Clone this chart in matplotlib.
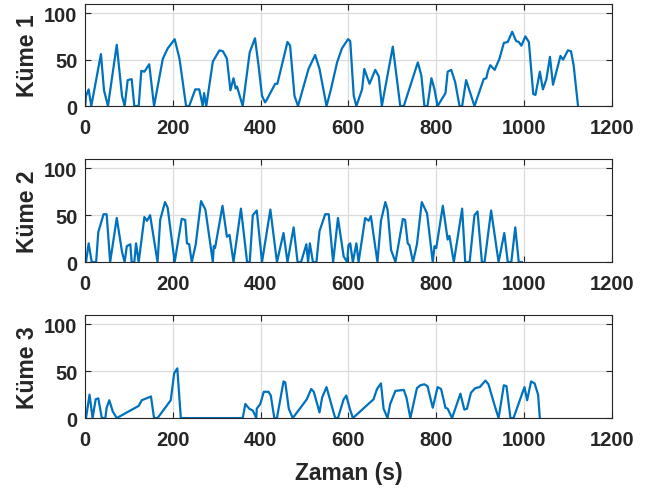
import matplotlib

matplotlib.use("Agg")

import matplotlib.pyplot as plt

LINE_COLOUR = "#0072BD"
TEXT_COLOUR = "#262626"

# Küme 1
k1_t = [0, 2, 8, 14, 36, 43, 52, 72, 84, 90, 97, 106, 112, 122, 128, 135, 146,
        157, 177, 188, 204, 215, 230, 237, 251, 260, 268, 271, 276, 291, 306,
        314, 323, 331, 338, 343, 346, 359, 375, 387, 395, 403, 410, 414, 433,
        438, 461, 467, 477, 485, 509, 524, 534, 550, 560, 574, 585, 599, 604,
        612, 618, 631, 636, 648, 661, 669, 676, 701, 718, 726, 758, 766, 773,
        780, 789, 796, 803, 821, 826, 834, 843, 853, 859, 868, 887, 908, 914,
        918, 923, 933, 944, 954, 963, 973, 982, 988, 994, 1003, 1011, 1021,
        1026, 1036, 1043, 1051, 1059, 1066, 1083, 1089, 1100, 1107, 1113, 1123]
k1_v = [0, 11, 18, 0, 56, 17, 0, 66, 11, 0, 28, 29, 0, 0, 38, 37, 45,
        0, 51, 62, 72, 51, 0, 0, 18, 18, 0, 14, 0, 48, 60,
        59, 51, 17, 30, 19, 21, 0, 58, 73, 44, 11, 4, 7, 24,
        24, 69, 65, 11, 0, 40, 55, 40, 0, 18, 47, 62, 72, 70,
        11, 0, 18, 40, 24, 39, 32, 0, 64, 0, 0, 47, 33, 0,
        0, 30, 18, 0, 14, 37, 39, 26, 0, 0, 28, 0, 29, 30,
        38, 44, 39, 51, 68, 69, 80, 70, 69, 65, 75, 69, 13,
        12, 37, 18, 29, 53, 23, 54, 50, 60, 59, 44, 0]

# Küme 2
k2_t = [0, 2, 8, 15, 25, 30, 42, 49, 57, 72, 84, 90, 95, 103, 106, 112, 116,
        122, 135, 141, 148, 165, 171, 182, 188, 204, 220, 228, 232, 237, 243,
        252, 264, 274, 291, 293, 296, 313, 323, 329, 338, 355, 369, 375, 382,
        391, 403, 422, 437, 452, 461, 475, 484, 492, 504, 508, 512, 519, 527,
        534, 547, 555, 565, 576, 589, 597, 600, 604, 610, 618, 623, 638, 646,
        651, 666, 674, 684, 689, 697, 707, 724, 729, 735, 739, 747, 756, 767,
        779, 792, 796, 800, 815, 826, 830, 840, 859, 866, 876, 887, 894, 904,
        910, 925, 942, 955, 963, 971, 980, 988, 995]
k2_v = [0, 0, 20, 0, 0, 32, 51, 51, 0, 47, 11, 0, 17, 19, 0, 0, 20,
        0, 48, 44, 50, 0, 45, 64, 58, 0, 46, 45, 20, 19, 0,
        19, 65, 56, 0, 17, 15, 60, 27, 29, 0, 57, 0, 0, 50,
        55, 0, 56, 0, 31, 0, 37, 0, 0, 19, 0, 20, 0, 0,
        33, 51, 51, 0, 47, 6, 0, 18, 20, 0, 20, 0, 47, 44,
        49, 0, 44, 64, 56, 13, 0, 46, 45, 20, 18, 0, 19, 64,
        52, 0, 17, 15, 60, 24, 28, 0, 57, 0, 0, 50, 54, 0,
        0, 55, 0, 31, 0, 0, 37, 0, 0]

# Küme 3
k3_t = [0, 2, 10, 17, 24, 30, 38, 46, 49, 55, 63, 72, 122, 129, 150, 157, 165,
        195, 203, 210, 218, 359, 365, 374, 382, 390, 391, 399, 407, 418, 423,
        431, 437, 452, 456, 464, 473, 505, 515, 521, 534, 540, 550, 566, 570,
        576, 589, 595, 603, 610, 657, 665, 674, 680, 689, 695, 707, 726, 732,
        741, 756, 764, 773, 780, 792, 803, 811, 821, 826, 836, 855, 864, 870,
        879, 889, 899, 912, 919, 932, 942, 954, 960, 969, 976, 1001, 1007,
        1016, 1024, 1032, 1036]
k3_v = [0, 0, 25, 0, 20, 21, 0, 0, 11, 19, 7, 0, 13, 19, 23, 0, 0,
        19, 48, 53, 0, 0, 15, 10, 8, 0, 10, 15, 28, 28, 24,
        0, 0, 39, 38, 10, 0, 20, 31, 28, 6, 22, 33, 6, 0,
        0, 20, 24, 10, 0, 20, 31, 37, 10, 0, 15, 29, 30, 22,
        0, 32, 35, 36, 34, 11, 33, 31, 11, 10, 0, 26, 9, 10,
        27, 32, 33, 40, 36, 15, 0, 35, 34, 0, 0, 33, 19,
        39, 37, 25, 0]

series = [("Küme 1", k1_t, k1_v), ("Küme 2", k2_t, k2_v), ("Küme 3", k3_t, k3_v)]
x_ticks = [0, 200, 400, 600, 800, 1000, 1200]
y_ticks = [0, 50, 100]

plt.rcParams["font.family"] = ["Liberation Sans", "DejaVu Sans"]
plt.rcParams["font.weight"] = "bold"

fig = plt.figure(figsize=(6.6, 4.89), dpi=100)
# [left, bottom, width, height] for each panel
positions = [
    [0.129, 0.781, 0.798, 0.209],
    [0.129, 0.462, 0.798, 0.211],
    [0.129, 0.143, 0.798, 0.211],
]

for (label, times, values), pos in zip(series, positions):
    ax = fig.add_axes(pos)
    ax.plot(times, values, color=LINE_COLOUR, linewidth=1.6)
    ax.set_xlim(0, 1200)
    ax.set_ylim(0, 110)
    ax.set_xticks(x_ticks)
    ax.set_yticks(y_ticks)
    ax.grid(True, color="#dcdcdc", linewidth=0.9)
    ax.set_axisbelow(True)
    ax.tick_params(
        direction="in",
        top=True,
        right=True,
        length=4,
        width=0.8,
        labelsize=14.5,
        colors=TEXT_COLOUR,
    )
    ax.tick_params(axis="x", pad=8.5)
    ax.tick_params(axis="y", pad=5.5)
    for label_obj in ax.get_xticklabels() + ax.get_yticklabels():
        label_obj.set_fontweight("bold")
    for spine in ax.spines.values():
        spine.set_color(TEXT_COLOUR)
        spine.set_linewidth(0.8)
    ax.set_ylabel(label, fontsize=16.5, fontweight="bold", color=TEXT_COLOUR, labelpad=4)

ax.set_xlabel("Zaman (s)", fontsize=16.5, fontweight="bold", color=TEXT_COLOUR, labelpad=9)

fig.savefig("out.png", dpi=100)
